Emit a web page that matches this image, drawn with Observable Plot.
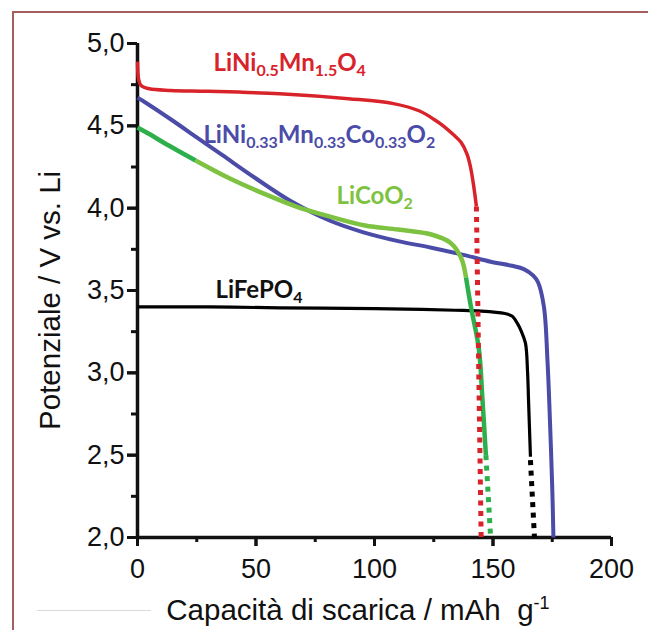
<!DOCTYPE html>
<html><head><meta charset="utf-8">
<script src="https://cdn.jsdelivr.net/npm/d3@7"></script>
<script src="https://cdn.jsdelivr.net/npm/@observablehq/plot@0.6"></script>
<style>
html,body{margin:0;padding:0;background:#fff;}
#wrap{position:relative;width:648px;height:630px;overflow:hidden;background:#fff;}
#wrap svg{position:absolute;left:0;top:0;}
#frame{position:absolute;left:12px;top:11px;width:700px;height:700px;border-left:2px solid #a65f5f;border-top:2px solid #a65f5f;pointer-events:none;}
#gline{position:absolute;left:37px;top:610px;width:114px;height:0;border-top:1px solid #dadada;}
</style></head><body><div id="wrap"><div id="frame"></div><div id="gline"></div></div>
<script>
// ---------- data ----------
const xTicks = [0, 50, 100, 150, 200];
const xTickLabels = ["0", "50", "100", "150", "200"];
const xMinor = [25, 75, 125, 175];
const yTicks = [2, 2.5, 3, 3.5, 4, 4.5, 5];
const yTickLabels = ["2,0", "2,5", "3,0", "3,5", "4,0", "4,5", "5,0"];
const yMinor = [2.25, 2.75, 3.25, 3.75, 4.25, 4.75];

// LiNi0.5Mn1.5O4 (red)
const lnmoCap = [0, 0.5, 1.5, 5, 14, 30, 60, 89, 108, 119, 125, 129, 133, 136.5, 139, 140.5, 142, 143];
const lnmoV   = [4.89, 4.78, 4.745, 4.725, 4.715, 4.71, 4.695, 4.665, 4.635, 4.59, 4.54, 4.50, 4.45, 4.40, 4.33, 4.25, 4.12, 4.01];
const lnmoTailCap = [143, 145];
const lnmoTailV   = [4.01, 2.0];

// LiNi0.33Mn0.33Co0.33O2 (blue)
const nmcCap = [0, 3, 14, 25, 36, 50, 65, 81, 95, 110, 124, 138, 149, 158, 163, 167, 169, 171.5, 173, 173.8, 175, 175.5];
const nmcV   = [4.67, 4.645, 4.54, 4.43, 4.32, 4.18, 4.04, 3.925, 3.855, 3.80, 3.76, 3.715, 3.675, 3.65, 3.63, 3.59, 3.55, 3.40, 3.07, 2.80, 2.30, 2.0];

// LiCoO2 (green, three tone segments + dotted tail)
const lcoHeadCap = [0, 5, 12, 24.5];
const lcoHeadV   = [4.49, 4.45, 4.39, 4.29];
const lcoMidCap  = [24.5, 39, 53, 67, 81, 96, 110, 124, 132, 136.5, 138.6];
const lcoMidV    = [4.29, 4.18, 4.09, 4.01, 3.95, 3.895, 3.87, 3.84, 3.79, 3.70, 3.58];
const lcoEndCap  = [138.6, 140.7, 144, 145.5, 147];
const lcoEndV    = [3.58, 3.40, 3.15, 2.85, 2.5];
const lcoTailCap = [147, 149];
const lcoTailV   = [2.5, 2.0];

// LiFePO4 (black)
const lfpCap = [0, 30, 60, 100, 120, 134, 145, 155, 158, 160.3, 162, 163.7, 164.6, 165, 165.8];
const lfpV   = [3.40, 3.40, 3.395, 3.39, 3.385, 3.38, 3.375, 3.36, 3.345, 3.30, 3.25, 3.18, 3.0, 2.83, 2.49];
const lfpTailCap = [165.8, 167.5];
const lfpTailV   = [2.47, 2.0];

// curve labels (markup: _{..} subscript)
const curveLabels = ["LiNi_{0.5}Mn_{1.5}O_{4}", "LiNi_{0.33}Mn_{0.33}Co_{0.33}O_{2}", "LiCoO_{2}", "LiFePO_{4}"];
const xTitle = "Capacità di scarica / mAh  g^{-1}";
const yTitle = "Potenziale / V vs. Li";

// ---------- layout / style ----------
const W = 648, H = 630, ML = 137, MR = 37, MT = 43, MB = 93;
const RED = "#d8232a", BLUE = "#4b4ba8", DKGREEN = "#2db04b", LTGREEN = "#7ec242", BLACK = "#000", INK = "#111";
const labelColors = [RED, BLUE, LTGREEN, INK];
const labelAt = [[32.1, 4.835], [27.8, 4.398], [84, 4.028], [32.9, 3.457]];
const xTitleAt = 93;
const yTitleAt = 3.44;
const xDomain = [0, 200], yDomain = [2, 5];
// tick lengths in px, converted to data units through the plot geometry
const xUnit = (xDomain[1] - xDomain[0]) / (W - ML - MR);
const yUnit = (yDomain[1] - yDomain[0]) / (H - MT - MB);
const majorLen = 9, minorLen = 5;

const pts = (c, v) => c.map((x, i) => ({x, y: v[i]}));
const plain = s => s.replace(/[_^]\{([^}]*)\}/g, "$1");
const solid = (c, v, stroke, w) => Plot.line(pts(c, v), {x: "x", y: "y", stroke, strokeWidth: w, curve: "catmull-rom", strokeLinejoin: "round", strokeLinecap: "butt"});
const dotted = (c, v, stroke) => Plot.line(pts(c, v), {x: "x", y: "y", stroke, strokeWidth: 5, strokeDasharray: "5,5.5", strokeLinecap: "butt"});
const yTickRules = (ticks, len) => Plot.ruleY(ticks, {y: d => d, x1: xDomain[0], x2: xDomain[0] - len * xUnit, stroke: INK, strokeWidth: 3});
const xTickRules = (ticks, len) => Plot.ruleX(ticks, {x: d => d, y1: yDomain[0], y2: yDomain[0] - len * yUnit, stroke: INK, strokeWidth: 3});

const chart = Plot.plot({
  width: W, height: H,
  marginLeft: ML, marginRight: MR, marginTop: MT, marginBottom: MB,
  x: {domain: xDomain},
  y: {domain: yDomain},
  style: {fontFamily: "'Liberation Sans', Arial, sans-serif", fontSize: "27px", color: INK, background: "#fff", overflow: "visible"},
  marks: [
    Plot.axisX({ticks: xTicks, tickSize: majorLen, tickPadding: 12, strokeWidth: 3, label: null, fontSize: 27, stroke: INK, tickFormat: d => xTickLabels[xTicks.indexOf(d)]}),
    Plot.axisY({ticks: yTicks, tickSize: 10, tickPadding: 3, tickFormat: d => yTickLabels[yTicks.indexOf(d)], strokeWidth: 3, label: null, fontSize: 27, stroke: INK}),
    yTickRules(yTicks, 10),
    yTickRules(yMinor, minorLen + 1),
    xTickRules(xTicks, majorLen),
    xTickRules(xMinor, minorLen),
    Plot.ruleX([0], {strokeWidth: 3.5, stroke: INK}),
    Plot.ruleY([2], {strokeWidth: 3.5, stroke: INK}),
    solid(lfpCap, lfpV, BLACK, 3.2),
    dotted(lfpTailCap, lfpTailV, BLACK),
    solid(nmcCap, nmcV, BLUE, 4),
    solid(lcoHeadCap, lcoHeadV, DKGREEN, 4.5),
    solid(lcoMidCap, lcoMidV, LTGREEN, 4.5),
    solid(lcoEndCap, lcoEndV, DKGREEN, 4.5),
    dotted(lcoTailCap, lcoTailV, DKGREEN),
    solid(lnmoCap, lnmoV, RED, 3.5),
    dotted(lnmoTailCap, lnmoTailV, RED),
    Plot.text(d3.range(curveLabels.length), {
      x: i => labelAt[i][0], y: i => labelAt[i][1], text: i => plain(curveLabels[i]),
      fill: i => labelColors[i], textAnchor: "start", lineAnchor: "bottom",
      fontFamily: "Lato, 'Open Sans', sans-serif", fontWeight: "bold", fontSize: 24
    }),
    Plot.text([plain(xTitle)], {x: xTitleAt, frameAnchor: "bottom", dy: 82, lineAnchor: "bottom", textAnchor: "middle", fontSize: 29.5, fill: INK}),
    Plot.text([yTitle], {y: yTitleAt, frameAnchor: "left", dx: -87, rotate: -90, lineAnchor: "middle", textAnchor: "middle", fontSize: 29.5, fill: INK})
  ]
});

// rich text: subscripts / superscripts as tspans
const rich = new Map();
curveLabels.forEach(s => rich.set(plain(s), {m: s, size: 16, shift: 5}));
rich.set(plain(xTitle), {m: xTitle, size: 18, shift: -11});
chart.querySelectorAll("text").forEach(t => {
  const r = rich.get(t.textContent);
  if (!r) return;
  const parts = r.m.split(/([_^]\{[^}]*\})/).filter(s => s);
  t.textContent = "";
  let cur = 0;
  for (const p of parts) {
    const ts = document.createElementNS("http://www.w3.org/2000/svg", "tspan");
    let target = 0;
    if (/^[_^]\{/.test(p)) {
      target = r.shift;
      ts.textContent = p.slice(2, -1);
      ts.setAttribute("font-size", r.size);
    } else ts.textContent = p;
    if (target !== cur) ts.setAttribute("dy", target - cur);
    cur = target;
    t.appendChild(ts);
  }
});

const wrap = document.getElementById("wrap");
wrap.insertBefore(chart, wrap.firstChild);
</script>
</body></html>
